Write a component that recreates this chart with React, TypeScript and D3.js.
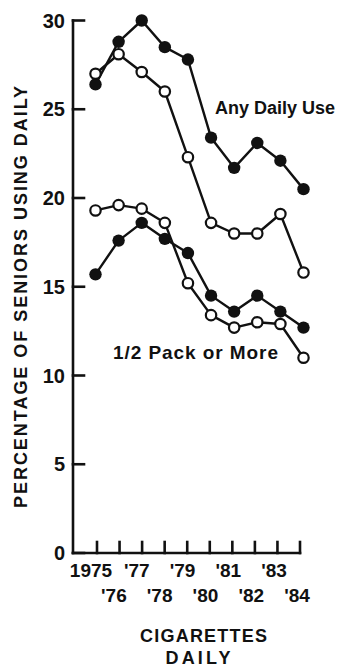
import React from "react";
import * as d3 from "d3";

// Survey years on the x axis
const years = [1975, 1976, 1977, 1978, 1979, 1980, 1981, 1982, 1983, 1984];
const yearLabels = ["1975", "'76", "'77", "'78", "'79", "'80", "'81", "'82", "'83", "'84"];
const yTickValues = [0, 5, 10, 15, 20, 25, 30];

// Percentage of seniors smoking daily
const anyDailyFilled = [26.4, 28.8, 30.0, 28.5, 27.8, 23.4, 21.7, 23.1, 22.1, 20.5];
const anyDailyOpen = [27.0, 28.1, 27.1, 26.0, 22.3, 18.6, 18.0, 18.0, 19.1, 15.8];
const halfPackOpen = [19.3, 19.6, 19.4, 18.6, 15.2, 13.4, 12.7, 13.0, 12.9, 11.0];
const halfPackFilled = [15.7, 17.6, 18.6, 17.7, 16.9, 14.5, 13.6, 14.5, 13.6, 12.7];

const W = 340;
const H = 669;
const FONT = "'Liberation Sans', Arial, sans-serif";

export default function App() {
  const x = d3.scaleLinear().domain([1975, 1984]).range([95.5, 303.5]);
  const xTick = d3.scaleLinear().domain([1975, 1984]).range([97, 300]);
  const xLabel = d3.scaleLinear().domain([1975, 1984]).range([91, 297]);
  const y = d3.scaleLinear().domain([0, 30]).range([553, 20.5]);

  const line = d3
    .line<number>()
    .x((_, i) => x(years[i]))
    .y((d) => y(d));

  const series = [
    { values: anyDailyFilled, filled: true },
    { values: anyDailyOpen, filled: false },
    { values: halfPackOpen, filled: false },
    { values: halfPackFilled, filled: true },
  ];

  const axisX0 = 73;
  const axisY0 = y(0);

  return (
    <svg
      width={W}
      height={H}
      viewBox={`0 0 ${W} ${H}`}
      style={{ position: "absolute", left: 0, top: 0, background: "#fff" }}
      fontFamily={FONT}
    >
      {/* axes */}
      <g stroke="#111" strokeWidth={2.6} fill="none" strokeLinecap="square">
        <line x1={axisX0} y1={y(30)} x2={axisX0} y2={axisY0} />
        <line x1={axisX0} y1={axisY0} x2={xTick(1984)} y2={axisY0} />
        {yTickValues.map((v) => (
          <line key={v} x1={axisX0} y1={y(v)} x2={axisX0 + 11} y2={y(v)} />
        ))}
        {years.map((yr) => (
          <line key={yr} x1={xTick(yr)} y1={axisY0} x2={xTick(yr)} y2={axisY0 - 11} />
        ))}
      </g>

      {/* y tick labels */}
      <g fontSize={20} fontWeight={700} fill="#111" textAnchor="end">
        {yTickValues.map((v) => (
          <text key={v} x={65} y={y(v)} dy="0.36em">
            {v}
          </text>
        ))}
      </g>

      {/* x tick labels, staggered in two rows */}
      <g fontSize={19} fontWeight={700} fill="#111" textAnchor="middle">
        {years.map((yr, i) => (
          <text key={yr} x={xLabel(yr)} y={i % 2 === 0 ? 577 : 602}>
            {yearLabels[i]}
          </text>
        ))}
      </g>

      {/* y axis title */}
      <text
        transform={`translate(27,297) rotate(-90)`}
        textAnchor="middle"
        fontSize={18}
        fontWeight={700}
        fill="#111"
        textLength={422}
        lengthAdjust="spacing"
      >
        PERCENTAGE OF SENIORS USING DAILY
      </text>

      {/* x axis title */}
      <text x={203.5} y={642} textAnchor="middle" fontSize={18} fontWeight={700} fill="#111" textLength={127} lengthAdjust="spacing">
        CIGARETTES
      </text>
      <text x={198} y={664} textAnchor="middle" fontSize={18} fontWeight={700} fill="#111" textLength={65} lengthAdjust="spacing">
        DAILY
      </text>

      {/* series labels */}
      <text x={215} y={114} fontSize={18} fontWeight={700} fill="#111">
        Any Daily Use
      </text>
      <text x={113} y={359} fontSize={19} fontWeight={700} fill="#111" textLength={165} lengthAdjust="spacing">
        1/2 Pack or More
      </text>

      {/* data lines */}
      {series.map((s, si) => (
        <path key={si} d={line(s.values) || ""} fill="none" stroke="#111" strokeWidth={2.4} strokeLinejoin="round" />
      ))}

      {/* markers */}
      {series.map((s, si) => (
        <g key={si}>
          {s.values.map((v, i) =>
            s.filled ? (
              <circle key={i} cx={x(years[i])} cy={y(v)} r={6.2} fill="#111" />
            ) : (
              <circle key={i} cx={x(years[i])} cy={y(v)} r={5.2} fill="#fff" stroke="#111" strokeWidth={2.2} />
            )
          )}
        </g>
      ))}
    </svg>
  );
}
